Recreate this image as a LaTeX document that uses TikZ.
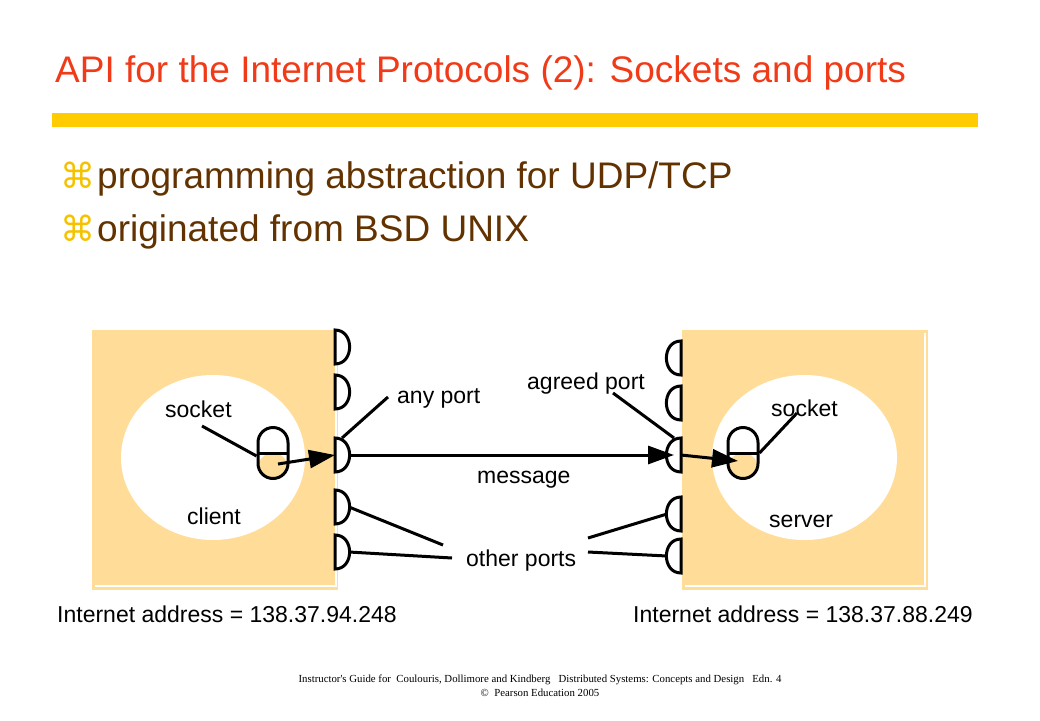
\documentclass[tikz,border=0pt]{standalone}
\usepackage{fontspec}
\setmainfont{Liberation Sans}
\newfontfamily\symfont{DejaVu Sans}
\newfontfamily\footfont{Liberation Serif}
\usetikzlibrary{arrows.meta}
\definecolor{titlered}{RGB}{240,58,24}
\definecolor{baryellow}{RGB}{255,204,0}
\definecolor{bulletgold}{RGB}{245,194,0}
\definecolor{textbrown}{RGB}{98,50,0}
\definecolor{hostfill}{RGB}{255,221,153}
\tikzset{
  lbl/.style={font=\fontsize{23}{27}\selectfont, anchor=base west, inner sep=0pt},
  wire/.style={line width=3pt},
  big/.style={-{Triangle[length=26pt,width=18pt]}},
  portbox/.style={minimum width=14pt, minimum height=34pt, inner sep=0pt, outer sep=0pt},
  portline/.style={line width=3pt, fill=white},
  sock/.style={draw, line width=3pt, minimum width=30pt, minimum height=51pt,
    rounded corners=15pt, inner sep=0pt,
    path picture={\fill[hostfill] (path picture bounding box.west) rectangle (path picture bounding box.south east);
      \draw[line width=3pt] (path picture bounding box.west) -- (path picture bounding box.east);}}
}
\begin{document}
\begin{tikzpicture}[x=1pt,y=-1pt]
  \useasboundingbox (0,0) rectangle (1040,720);
  % heading
  \node[anchor=base west, inner sep=0pt, text=titlered, font=\fontsize{37}{41}\selectfont]
    (title) at (55,82) {API for the Internet Protocols (2): Sockets and ports};
  \fill[baryellow] (52,113) rectangle (978,127);
  \node[anchor=base west, inner sep=0pt, text=bulletgold, font=\symfont\fontsize{35}{38}\selectfont]
    (b1) at (60,188) {⌘};
  \node[anchor=base west, inner sep=0pt, text=bulletgold, font=\symfont\fontsize{35}{38}\selectfont]
    (b2) at (60,241) {⌘};
  \node[anchor=base west, inner sep=0pt, text=textbrown, font=\fontsize{37}{41}\selectfont]
    (t1) at (97,188) {programming abstraction for UDP/TCP};
  \node[anchor=base west, inner sep=0pt, text=textbrown, font=\fontsize{37}{41}\selectfont]
    (t2) at (97,241) {originated from BSD UNIX};
  % hosts
  \fill[hostfill] (92,330) rectangle (338,590);
  \fill[hostfill] (682,330) rectangle (928,590);
  \draw[white, line width=1.2pt] (95,586) -- (336,586) -- (336,333);
  \draw[white, line width=1.2pt] (685,586) -- (925,586) -- (925,333);
  \fill[white] (213,457.5) ellipse (92 and 82.5);
  \fill[white] (804.5,457.5) ellipse (92.5 and 82.5);
  \node[sock] (csock) at (273,453) {};
  \node[sock] (ssock) at (743,453) {};
  % ports
  \foreach \y [count=\i] in {347,392,455,507,552} {
    \node[portbox] (lp\i) at (342,\y) {};
    \draw[portline] (lp\i.north west) .. controls +(19.5,0) and +(19.5,0) .. (lp\i.south west) -- cycle;
  }
  \foreach \y [count=\i] in {358,403,455,514,556} {
    \node[portbox] (rp\i) at (674,\y) {};
    \draw[portline] (rp\i.north east) .. controls +(-19.5,0) and +(-19.5,0) .. (rp\i.south east) -- cycle;
  }
  % labels
  \node[lbl] (csockl) at (165,417) {socket};
  \node[lbl] (client) at (187,524) {client};
  \node[lbl] (ssockl) at (771,416) {socket};
  \node[lbl] (server) at (769,527) {server};
  \node[lbl] (anyport) at (397,403) {any port};
  \node[lbl] (agreed) at (527,389) {agreed port};
  \node[lbl] (message) at (477,483) {message};
  \node[lbl] (other) at (466,566) {other ports};
  \node[lbl] (caddr) at (57,622) {Internet address = 138.37.94.248};
  \node[lbl] (saddr) at (633,622) {Internet address = 138.37.88.249};
  \coordinate (csockp) at (202,426);
  \coordinate (ssockp) at (797,413);
  \coordinate (anyp) at (388,397);
  \coordinate (agp) at (613,393);
  \coordinate (otherl1) at (443,545);
  \coordinate (otherl2) at (452,558);
  \coordinate (otherr1) at (588,538);
  \coordinate (otherr2) at (588,552);
  % connectors
  \draw[wire] (csockp) -- ([yshift=-3]csock.west);
  \draw[wire] (ssock.east) -- (ssockp);
  \draw[wire, big] ([shift={(5,11)}]csock.center) -- (lp3.west);
  \draw[wire, big] (lp3.east) -- (rp3.center);
  \draw[wire, big] (rp3.east) -- ([shift={(-5,8)}]ssock.center);
  \draw[wire] (lp3.north) -- (anyp);
  \draw[wire] (agp) -- (rp3.north);
  \draw[wire] (lp4.east) -- (otherl1);
  \draw[wire] (lp5.east) -- (otherl2);
  \draw[wire] (otherr1) -- (rp4.west);
  \draw[wire] (otherr2) -- (rp5.west);
  % footer
  \node[anchor=base, inner sep=0pt, font=\footfont\fontsize{10.8}{12}\selectfont] (foot1) at (540,682)
    {Instructor's Guide for\ \ Coulouris, Dollimore and Kindberg\ \ \ Distributed Systems: Concepts and Design\ \ \ Edn. 4};
  \node[anchor=base, inner sep=0pt, font=\footfont\fontsize{10.8}{12}\selectfont] (foot2) at (540,696)
    {©\ \ Pearson Education 2005};
\end{tikzpicture}
\end{document}
